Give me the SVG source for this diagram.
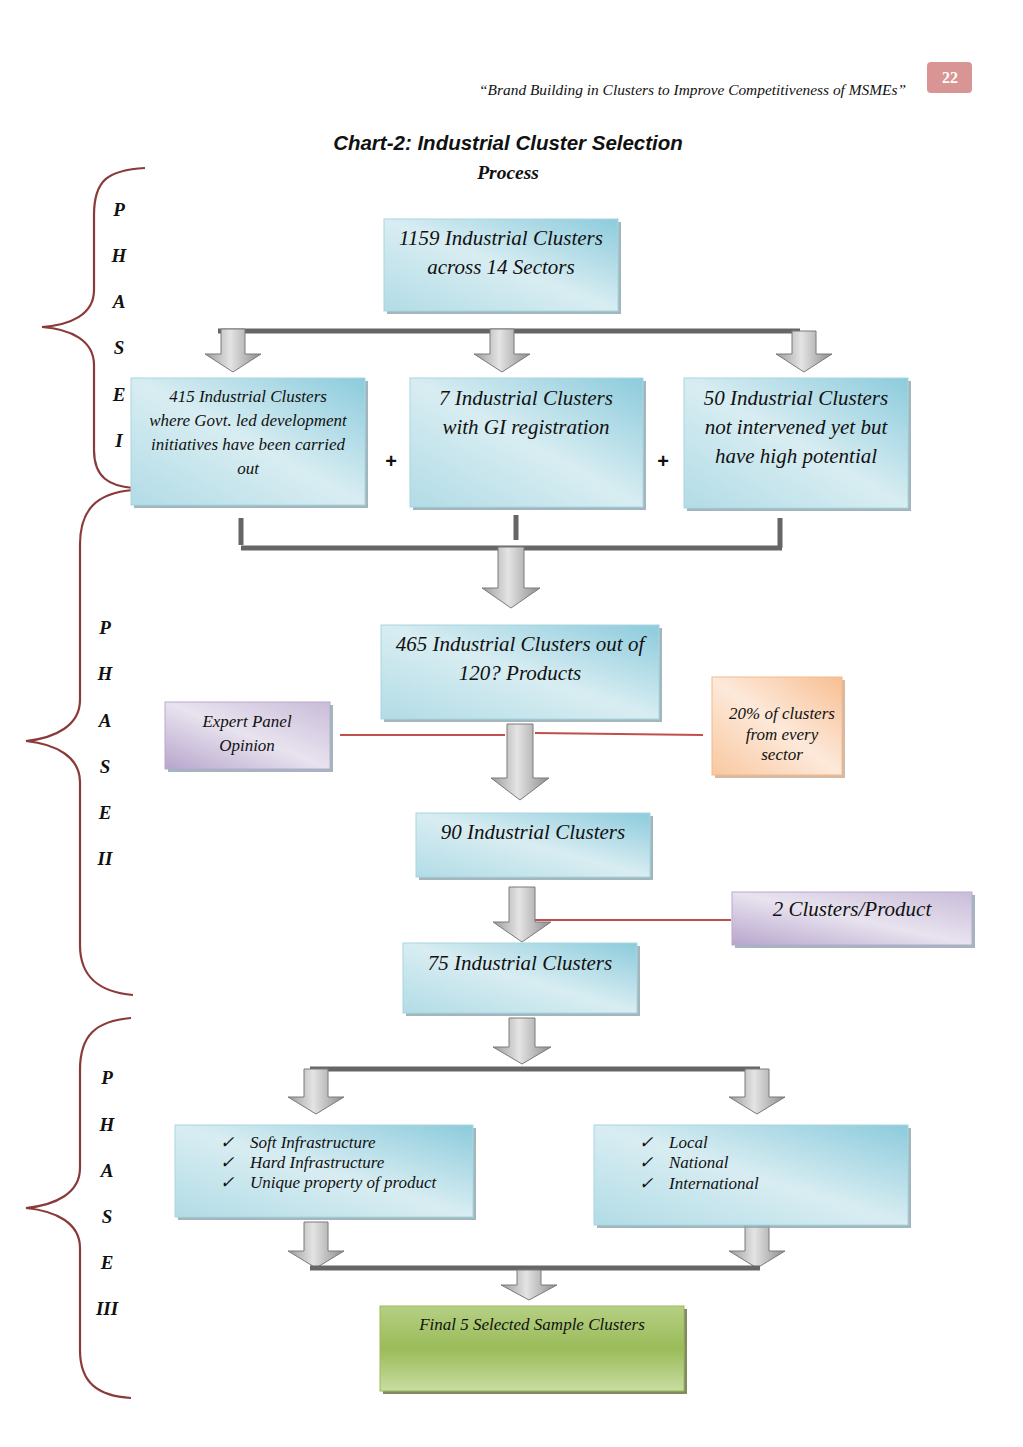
<svg xmlns="http://www.w3.org/2000/svg" width="1023" height="1447" viewBox="0 0 1023 1447">
<defs>
<linearGradient id="gBlue" x1="1" y1="0" x2="0" y2="1">
<stop offset="0" stop-color="#8ccbdc"/><stop offset="0.5" stop-color="#d8edf2"/><stop offset="1" stop-color="#b2dce6"/>
</linearGradient>
<linearGradient id="gPurple" x1="0" y1="1" x2="1" y2="0">
<stop offset="0" stop-color="#b7a5cc"/><stop offset="0.5" stop-color="#e8e3ef"/><stop offset="1" stop-color="#c9bcd9"/>
</linearGradient>
<linearGradient id="gOrange" x1="1" y1="0" x2="0" y2="1">
<stop offset="0" stop-color="#f8bf92"/><stop offset="0.5" stop-color="#fde9da"/><stop offset="1" stop-color="#f8c8a0"/>
</linearGradient>
<linearGradient id="gGreen" x1="0" y1="0" x2="0" y2="1">
<stop offset="0" stop-color="#b5d084"/><stop offset="0.5" stop-color="#9bbb59"/><stop offset="1" stop-color="#c8dda2"/>
</linearGradient>
<linearGradient id="gArrow" x1="0" y1="0" x2="1" y2="0">
<stop offset="0" stop-color="#9a9a9a"/><stop offset="0.45" stop-color="#e4e4e4"/><stop offset="1" stop-color="#8c8c8c"/>
</linearGradient>
<style>
.t{font-family:"Liberation Serif",serif;font-style:italic;fill:#111;text-anchor:middle}
.l{font-size:21px}
.s{font-size:17px}
.ph{font-family:"Liberation Serif",serif;font-style:italic;font-weight:bold;font-size:19px;fill:#111;text-anchor:middle}
.brace{fill:none;stroke:#8b3a3a;stroke-width:2.2}
.bar{stroke:#666;stroke-width:5;fill:none}
.red{stroke:#c0504d;stroke-width:2;fill:none}
.arr{fill:url(#gArrow);stroke:#7a7a7a;stroke-width:1}
.sh{fill:#8aa4ad;opacity:0.8}
.blue{fill:url(#gBlue);stroke:#a9d6e0;stroke-width:1}
.purple{fill:url(#gPurple);stroke:#b9aacd;stroke-width:1}
.orange{fill:url(#gOrange);stroke:#f3b98b;stroke-width:1}
.green{fill:url(#gGreen);stroke:#9bbb59;stroke-width:1}
</style>
</defs>
<rect width="1023" height="1447" fill="#fff"/>

<g id="header">
<rect x="927" y="62" width="45" height="31" rx="4" fill="#d99594"/>
<text x="950" y="83" font-family="Liberation Serif,serif" font-weight="bold" font-size="16" fill="#fff" text-anchor="middle">22</text>
<text x="906" y="95" font-family="Liberation Serif,serif" font-style="italic" font-size="15.4" fill="#111" text-anchor="end">“Brand Building in Clusters to Improve Competitiveness of MSMEs”</text>
<text x="508" y="150" font-family="Liberation Sans,sans-serif" font-style="italic" font-weight="bold" font-size="20.5" fill="#111" text-anchor="middle">Chart-2: Industrial Cluster Selection</text>
<text x="508" y="179" font-family="Liberation Serif,serif" font-style="italic" font-weight="bold" font-size="19.5" fill="#111" text-anchor="middle">Process</text>
</g>

<g id="phase1">
<path class="brace" d="M145,168 C108,170 94,180 94,215 L94,290 C94,315 70,325 42,327 C70,329 94,340 94,365 L94,450 C94,478 110,486 133,488"/>
<text class="ph" x="119" y="216">P</text>
<text class="ph" x="119" y="262">H</text>
<text class="ph" x="119" y="308">A</text>
<text class="ph" x="119" y="354">S</text>
<text class="ph" x="119" y="401">E</text>
<text class="ph" x="119" y="447">I</text>
</g>
<g id="phase2">
<path class="brace" d="M133,490 C96,493 80,510 80,545 L80,700 C80,725 56,738 26,741 C56,744 80,757 80,782 L80,945 C80,978 100,992 133,995"/>
<text class="ph" x="105" y="634">P</text>
<text class="ph" x="105" y="680">H</text>
<text class="ph" x="105" y="727">A</text>
<text class="ph" x="105" y="773">S</text>
<text class="ph" x="105" y="819">E</text>
<text class="ph" x="105" y="865">II</text>
</g>
<g id="phase3">
<path class="brace" d="M131,1018 C96,1021 80,1035 80,1070 L80,1168 C80,1193 56,1205 26,1208 C56,1211 80,1223 80,1248 L80,1350 C80,1383 98,1396 131,1398"/>
<text class="ph" x="107" y="1084">P</text>
<text class="ph" x="107" y="1131">H</text>
<text class="ph" x="107" y="1177">A</text>
<text class="ph" x="107" y="1223">S</text>
<text class="ph" x="107" y="1269">E</text>
<text class="ph" x="107" y="1315">III</text>
</g>

<g id="connectors">
<path class="bar" d="M218,331 H800"/>
<path class="arr" d="M221,329 H245 V354 H261 L233,372 L205,354 H221 Z"/>
<path class="arr" d="M490,329 H514 V354 H530 L502,372 L474,354 H490 Z"/>
<path class="arr" d="M792,331 H816 V354 H832 L804,372 L776,354 H792 Z"/>
<path class="bar" d="M241,518 V545 M516,515 V540 M780,518 V548 M241,548 H782"/>
<path class="arr" d="M498,547 H524 V588 H540 L511,608 L482,588 H498 Z"/>
<path class="red" d="M340,735 H505 M535,733 L703,735"/>
<path class="arr" d="M507,724 H533 V778 H549 L520,800 L491,778 H507 Z"/>
<path class="arr" d="M509,887 H535 V922 H551 L522,942 L493,922 H509 Z"/>
<path class="red" d="M535,920 H731"/>
<path class="arr" d="M509,1018 H535 V1047 H551 L522,1064 L493,1047 H509 Z"/>
<path class="bar" d="M310,1069 H760"/>
<path class="arr" d="M304,1069 H328 V1097 H344 L316,1114 L288,1097 H304 Z"/>
<path class="arr" d="M745,1069 H769 V1097 H785 L757,1114 L729,1097 H745 Z"/>
<path class="arr" d="M304,1222 H328 V1251 H344 L316,1268 L288,1251 H304 Z"/>
<path class="arr" d="M745,1222 H769 V1251 H785 L757,1268 L729,1251 H745 Z"/>
<path class="bar" d="M310,1268 H760"/>
<path class="arr" d="M517,1270 H541 V1285 H557 L529,1300 L501,1285 H517 Z"/>
</g>

<g id="n1">
<rect class="sh" x="387" y="222" width="234" height="92"/>
<rect class="blue" x="384" y="219" width="234" height="92"/>
<text class="t l" x="501" y="245">1159 Industrial Clusters</text>
<text class="t l" x="501" y="274">across 14 Sectors</text>
</g>
<g id="n2">
<rect class="sh" x="134" y="381" width="234" height="127"/>
<rect class="blue" x="131" y="378" width="234" height="127"/>
<text class="t s" x="248" y="402">415 Industrial Clusters</text>
<text class="t s" x="248" y="426">where Govt. led development</text>
<text class="t s" x="248" y="450">initiatives have been carried</text>
<text class="t s" x="248" y="474">out</text>
</g>
<text x="391" y="468" font-family="Liberation Sans,sans-serif" font-weight="bold" font-size="20" fill="#111" text-anchor="middle">+</text>
<g id="n3">
<rect class="sh" x="413" y="381" width="233" height="129"/>
<rect class="blue" x="410" y="378" width="233" height="129"/>
<text class="t l" x="526" y="405">7 Industrial Clusters</text>
<text class="t l" x="526" y="434">with GI registration</text>
</g>
<text x="663" y="468" font-family="Liberation Sans,sans-serif" font-weight="bold" font-size="20" fill="#111" text-anchor="middle">+</text>
<g id="n4">
<rect class="sh" x="687" y="381" width="224" height="130"/>
<rect class="blue" x="684" y="378" width="224" height="130"/>
<text class="t l" x="796" y="405">50 Industrial Clusters</text>
<text class="t l" x="796" y="434">not intervened yet but</text>
<text class="t l" x="796" y="463">have high potential</text>
</g>
<g id="n5">
<rect class="sh" x="384" y="628" width="278" height="94"/>
<rect class="blue" x="381" y="625" width="278" height="94"/>
<text class="t l" x="520" y="651">465 Industrial Clusters out of</text>
<text class="t l" x="520" y="680">120? Products</text>
</g>
<g id="n6">
<rect class="sh" x="168" y="705" width="165" height="67"/>
<rect class="purple" x="165" y="702" width="165" height="67"/>
<text class="t s" x="247" y="727">Expert Panel</text>
<text class="t s" x="247" y="751">Opinion</text>
</g>
<g id="n7">
<rect class="sh" x="715" y="680" width="130" height="98" style="fill:#c9a98f"/>
<rect class="orange" x="712" y="677" width="130" height="98"/>
<text class="t s" x="782" y="719">20% of clusters</text>
<text class="t s" x="782" y="740">from every</text>
<text class="t s" x="782" y="760">sector</text>
</g>
<g id="n8">
<rect class="sh" x="419" y="816" width="234" height="64"/>
<rect class="blue" x="416" y="813" width="234" height="64"/>
<text class="t l" x="533" y="839">90 Industrial Clusters</text>
</g>
<g id="n9">
<rect class="sh" x="735" y="895" width="240" height="53"/>
<rect class="purple" x="732" y="892" width="240" height="53"/>
<text class="t l" x="852" y="916">2 Clusters/Product</text>
</g>
<g id="n10">
<rect class="sh" x="406" y="946" width="234" height="70"/>
<rect class="blue" x="403" y="943" width="234" height="70"/>
<text class="t l" x="520" y="970">75 Industrial Clusters</text>
</g>
<g id="n11">
<rect class="sh" x="178" y="1128" width="298" height="92"/>
<rect class="blue" x="175" y="1125" width="298" height="92"/>
<g class="t s" style="text-anchor:start">
<text x="220" y="1148">✓</text><text x="250" y="1148">Soft Infrastructure</text>
<text x="220" y="1168">✓</text><text x="250" y="1168">Hard Infrastructure</text>
<text x="220" y="1188">✓</text><text x="250" y="1188">Unique property of product</text>
</g>
</g>
<g id="n12">
<rect class="sh" x="597" y="1128" width="314" height="100"/>
<rect class="blue" x="594" y="1125" width="314" height="100"/>
<g class="t s" style="text-anchor:start">
<text x="639" y="1148">✓</text><text x="669" y="1148">Local</text>
<text x="639" y="1168">✓</text><text x="669" y="1168">National</text>
<text x="639" y="1189">✓</text><text x="669" y="1189">International</text>
</g>
</g>
<g id="n13">
<rect class="sh" x="383" y="1309" width="304" height="85" style="fill:#5e6e3c"/>
<rect class="green" x="380" y="1306" width="304" height="85"/>
<text class="t s" x="532" y="1330">Final 5 Selected Sample Clusters</text>
</g>
</svg>
